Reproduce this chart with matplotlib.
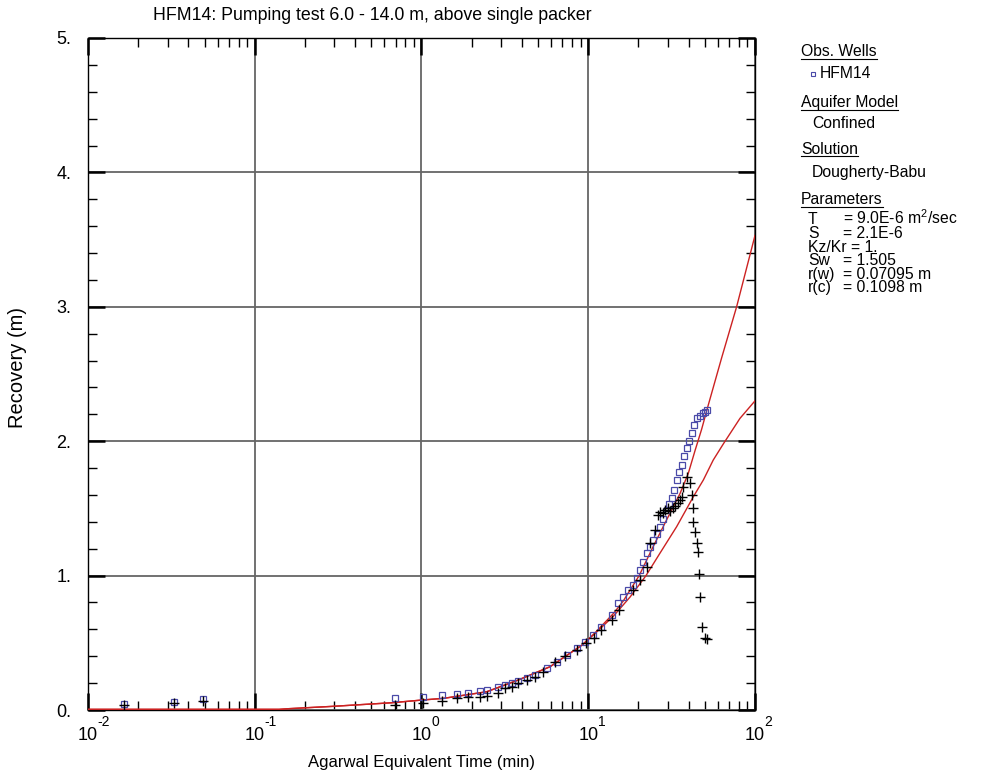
import math
import matplotlib
matplotlib.use("Agg")
import matplotlib.pyplot as plt
from matplotlib.lines import Line2D
from matplotlib.ticker import FixedLocator, LogLocator, MultipleLocator, FuncFormatter

plt.rcParams['font.family'] = ['Liberation Sans', 'DejaVu Sans']
plt.rcParams['mathtext.fontset'] = 'custom'
plt.rcParams['mathtext.rm'] = 'Liberation Sans'
plt.rcParams['mathtext.default'] = 'regular'

# observed recovery, HFM14 (squares)
sq_t = [0.0164, 0.033, 0.049, 0.69, 1.02, 1.33, 1.63, 1.90, 2.24, 2.46, 2.88, 3.17,
        3.48, 3.79, 4.28, 4.80, 5.66, 6.47, 7.43, 8.53, 9.57, 10.7, 12.0, 13.8, 15.1,
        16.2, 17.4, 18.6, 19.5, 20.4, 21.4, 22.4, 23.4, 24.5, 25.7, 26.9, 28.2, 29.5,
        30.5, 31.6, 32.7, 33.9, 35.1, 36.3, 37.6, 38.9, 40.2, 41.7, 43.2, 44.7, 46.5,
        48.5, 50.0, 51.3]
sq_s = [0.042, 0.057, 0.08, 0.087, 0.094, 0.11, 0.117, 0.129, 0.143, 0.151, 0.171, 0.186,
        0.203, 0.218, 0.236, 0.260, 0.315, 0.359, 0.409, 0.461, 0.508, 0.558, 0.619, 0.707, 0.796,
        0.84, 0.89, 0.93, 0.98, 1.04, 1.10, 1.166, 1.21, 1.265, 1.31, 1.364, 1.42, 1.488,
        1.53, 1.575, 1.64, 1.711, 1.77, 1.823, 1.89, 1.947, 2.00, 2.06, 2.12, 2.17, 2.19,
        2.21, 2.22, 2.23]

# second observed series (crosses)
cr_t = [0.0164, 0.033, 0.049, 0.69, 1.02, 1.33, 1.63, 1.90, 2.24, 2.46, 2.88, 3.17,
        3.48, 3.80, 4.28, 4.80, 5.38, 6.31, 7.24, 8.53, 9.7, 10.9, 11.9, 13.8, 15.2,
        18.6, 20.4, 22.4, 23.4, 25.1, 26.3, 27.0, 28.2, 29.0, 30.2, 31.0, 32.4, 33.0,
        34.7, 35.5, 36.3, 37.2, 38.9, 40.7, 41.7, 42.3, 42.7, 43.7, 44.7, 45.7, 46.1,
        46.8, 48.3, 49.9, 51.3]
cr_s = [0.035, 0.05, 0.066, 0.037, 0.05, 0.07, 0.087, 0.094, 0.10, 0.104, 0.129, 0.161,
        0.173, 0.198, 0.223, 0.248, 0.285, 0.36, 0.40, 0.446, 0.496, 0.533, 0.595, 0.67, 0.744,
        0.893, 0.967, 1.066, 1.24, 1.339, 1.451, 1.47, 1.463, 1.49, 1.50, 1.48, 1.50, 1.52,
        1.538, 1.56, 1.587, 1.661, 1.736, 1.687, 1.60, 1.50, 1.401, 1.327, 1.245, 1.173, 1.01,
        0.843, 0.615, 0.538, 0.526]

# type curves (Dougherty-Babu)
fitA_t = [0.01, 0.14, 0.16, 0.30, 0.66, 1.0, 1.36, 2.46, 3.8, 5.9, 9.2, 11.0, 14.2,
          16.2, 20.2, 24.5, 29.5, 35.5, 39.8, 43.7, 47.9, 52.5, 63.1, 77.6, 100.0]
fitA_s = [0.005, 0.005, 0.01, 0.028, 0.054, 0.074, 0.087, 0.136, 0.223, 0.322, 0.484, 0.575, 0.72,
          0.81, 1.0, 1.215, 1.414, 1.61, 1.76, 1.93, 2.09, 2.27, 2.62, 3.0, 3.53]
fitB_t = [0.01, 0.14, 0.16, 0.30, 0.66, 1.0, 1.36, 2.46, 3.8, 5.9, 9.2, 11.0, 14.2,
          17.8, 22.2, 26.9, 33.9, 42.7, 49.0, 56.2, 64.6, 81.3, 100.0]
fitB_s = [0.005, 0.005, 0.01, 0.028, 0.054, 0.074, 0.087, 0.136, 0.223, 0.322, 0.484, 0.57, 0.70,
          0.84, 1.0, 1.166, 1.364, 1.587, 1.711, 1.86, 1.98, 2.17, 2.30]

x_ticks = [0.01, 0.1, 1, 10, 100]

fig = plt.figure(figsize=(9.81, 7.83), dpi=100)
ax = fig.add_axes([0.0897, 0.0932, 0.6799, 0.8583])

ax.plot(fitA_t, fitA_s, color="#cc2222", lw=1.0, zorder=3)
ax.plot(fitB_t, fitB_s, color="#cc2222", lw=1.0, zorder=3)
ax.plot(sq_t, sq_s, ls="none", marker="s", ms=5, mfc="none", mec="#4a4aa8", mew=0.9, zorder=4)
ax.plot(cr_t, cr_s, ls="none", marker="+", ms=6.5, color="black", mew=1.0, zorder=5)

ax.set_xscale("log")
ax.set_xlim(0.01, 100)
ax.set_ylim(0, 5)
ax.xaxis.set_major_locator(FixedLocator(x_ticks))
ax.xaxis.set_minor_locator(LogLocator(base=10, subs=range(2, 10)))
ax.xaxis.set_major_formatter(FuncFormatter(lambda v, p: "10"))
ax.yaxis.set_major_locator(MultipleLocator(1))
ax.yaxis.set_minor_locator(MultipleLocator(0.2))
ax.yaxis.set_major_formatter(FuncFormatter(lambda v, p: "%d." % round(v)))

ax.grid(which="major", color="#666666", lw=1.3)
ax.tick_params(which="both", direction="in", top=True, right=True, labelsize=13)
ax.tick_params(axis="x", which="major", pad=12)
ax.tick_params(axis="y", which="major", pad=12)
ax.tick_params(which="major", length=12, width=1.8)
ax.tick_params(which="minor", length=6.5, width=1.0)
for s in ax.spines.values():
    s.set_linewidth(1.0)

# decade exponents, raised to the right of each "10"
for v in x_ticks:
    ax.annotate("%d" % round(math.log10(v)), xy=(v, 0), xycoords=("data", "axes fraction"),
                xytext=(7, -3.5), textcoords="offset points", ha="left", va="top",
                fontsize=10, annotation_clip=False)

fig.text(372 / 981, 1 - 15 / 783, "HFM14: Pumping test 6.0 - 14.0 m, above single packer",
         fontsize=12.8, ha="center", va="center")
ax.set_xlabel("Agarwal Equivalent Time (min)", fontsize=12, labelpad=8)
ax.set_ylabel("Recovery (m)", fontsize=14.5)
ax.yaxis.set_label_coords(-0.091, 0.509)

# side legend
W, H = 981.0, 783.0
def ftext(x, y, s):
    return fig.text(x / W, 1 - y / H, s, fontsize=11.3, va="baseline", ha="left")

head_y = [56, 107.5, 153.5, 204]
heads = [ftext(801, head_y[0], "Obs. Wells"), ftext(801, head_y[1], "Aquifer Model"),
         ftext(801, head_y[2], "Solution"), ftext(801, head_y[3], "Parameters")]
fig.add_artist(Line2D([813 / W], [1 - 73.5 / H], marker="s", ms=3.5, mfc="none",
                      mec="#4a4aa8", mew=0.8, ls="none"))
ftext(820, 78.5, "HFM14")
ftext(812, 128, "Confined")
ftext(812, 177.5, "Dougherty-Babu")

par_names = ["T", "S", "Kz/Kr = 1.", "Sw", "r(w)", "r(c)"]
par_vals = ["= 9.0E-6 m$^2$/sec", "= 2.1E-6", "", "= 1.505", "= 0.07095 m", "= 0.1098 m"]
par_y = [224.5, 238, 251.5, 265, 278.5, 292]
for n, v, y in zip(par_names, par_vals, par_y):
    ftext(808, y, n)
    if v:
        ftext(843, y, v)

fig.canvas.draw()
r = fig.canvas.get_renderer()
for t, y in zip(heads, head_y):
    bb = t.get_window_extent(r)
    fig.add_artist(Line2D([bb.x0 / W, bb.x1 / W], [1 - (y + 2.5) / H] * 2, color="black", lw=0.8))

fig.savefig("out.png", dpi=100)
